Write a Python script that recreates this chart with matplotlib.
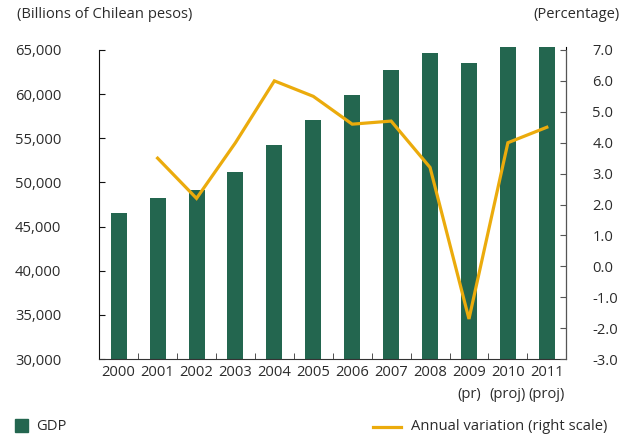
import matplotlib
matplotlib.use("Agg")
import matplotlib.pyplot as plt
from matplotlib.lines import Line2D
from matplotlib.patches import Rectangle

# Data
years = ["2000", "2001", "2002", "2003", "2004", "2005", "2006",
         "2007", "2008", "2009", "2010", "2011"]
year_notes = ["", "", "", "", "", "", "", "", "", "(pr)", "(proj)", "(proj)"]
gdp = [46600, 48200, 49200, 51200, 54200, 57100, 59900,
       62700, 64600, 63500, 66000, 69000]
growth_years = years[1:]
growth = [3.5, 2.2, 4.0, 6.0, 5.5, 4.6, 4.7, 3.2, -1.7, 4.0, 4.5]

left_ticks = [30000, 35000, 40000, 45000, 50000, 55000, 60000, 65000]
right_ticks = [-3.0, -2.0, -1.0, 0.0, 1.0, 2.0, 3.0, 4.0, 5.0, 6.0, 7.0]

BAR = "#23664f"
LINE = "#ebab0c"
TXT = "#2b2b2b"
FONT = ["Open Sans", "DejaVu Sans"]
FS = 10.6
PX = 72 / 100  # points per pixel at 100 dpi

plt.rcParams["font.family"] = FONT

fig = plt.figure(figsize=(6.32, 4.38), dpi=100)
ax = fig.add_axes([0.157, 0.180, 0.739, 0.713])
ax2 = ax.twinx()

x = list(range(len(years)))
ax.bar(x, gdp, width=0.41, color=BAR, zorder=2)

gx = [years.index(y) for y in growth_years]
ax2.plot(gx, growth, color=LINE, lw=2.3, solid_joinstyle="miter", zorder=3)

ax.set_xlim(-0.5, len(years) - 0.5)
ax.set_ylim(30000, 65350)
ax2.set_ylim(-3.0, 7.1)

# Spines
for a in (ax, ax2):
    a.spines["top"].set_visible(False)
ax.spines["left"].set_bounds(30000, 65000)
ax.spines["left"].set_color("#111111")
ax.spines["bottom"].set_color("#333333")
ax2.spines["right"].set_bounds(-3.0, 7.0)
ax2.spines["right"].set_color("#555555")
ax2.spines["left"].set_visible(False)
ax2.spines["bottom"].set_visible(False)

# Left axis
ax.set_yticks(left_ticks)
ax.set_yticklabels([f"{v:,}" for v in left_ticks])
ax.tick_params(axis="y", direction="in", length=4, pad=38 * PX,
               labelsize=FS, labelcolor=TXT, color="#111111")

# Right axis
ax2.set_yticks(right_ticks)
ax2.set_yticklabels([f"{v:.1f}" for v in right_ticks])
ax2.tick_params(axis="y", direction="in", length=4, pad=26 * PX,
                labelsize=FS, labelcolor=TXT, color="#555555")

# Category axis
ax.set_xticks(x)
ax.set_xticklabels([y if not n else f"{y}\n{n}" for y, n in zip(years, year_notes)])
ax.tick_params(axis="x", length=0, pad=6 * PX, labelsize=FS, labelcolor=TXT)
for lab in ax.get_xticklabels():
    lab.set_linespacing(1.6)
    lab.set_verticalalignment("top")
ax.set_xticks([i + 0.5 for i in range(len(years) - 1)], minor=True)
ax.tick_params(axis="x", which="minor", direction="in", length=4, color="#333333")

# Unit captions
fig.text(17 / 632, 1 - 15 / 438, "(Billions of Chilean pesos)", fontsize=FS,
         color=TXT, ha="left", va="center")
fig.text(620 / 632, 1 - 15 / 438, "(Percentage)", fontsize=FS,
         color=TXT, ha="right", va="center")

# Legend
fig.patches.append(Rectangle((15 / 632, 1 - 432 / 438), 13 / 632, 13 / 438,
                             transform=fig.transFigure, color=BAR))
fig.text(36 / 632, 1 - 426 / 438, "GDP", fontsize=FS, color=TXT,
         ha="left", va="center")
fig.lines.append(Line2D([373 / 632, 401 / 632], [1 - 427 / 438, 1 - 427 / 438],
                        transform=fig.transFigure, color=LINE, lw=2.3))
fig.text(411 / 632, 1 - 426 / 438, "Annual variation (right scale)", fontsize=FS,
         color=TXT, ha="left", va="center")

fig.savefig("out.png", dpi=100)
